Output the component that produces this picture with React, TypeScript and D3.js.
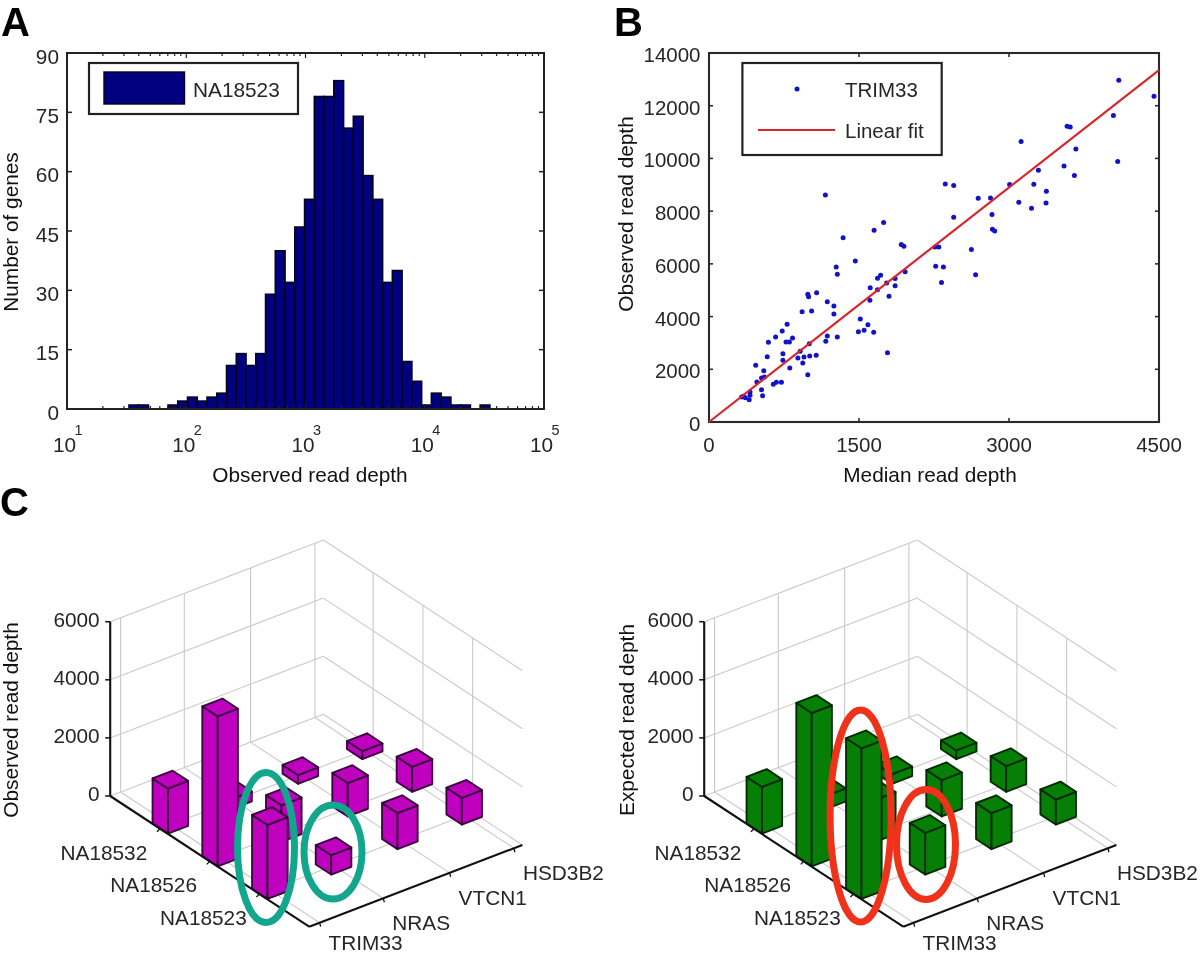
import React from "react";
import * as d3 from "d3";

const FONT = "'Liberation Sans', Arial, sans-serif";
const TEXT = "#262626";

// Panel A
const histLogStart = 1.029;
const histLogStep = 0.0818;
const histCounts = [0,0,0,0,0,0,1,1,0,0,1,2,3,2,3,4,11,14,11,14,29,40,32,46,53,79,79,83,71,74,59,53,32,35,12,7,1,4,3,1,1,0,1,0,0,0,0,0];
const histYTicks = [0,15,30,45,60,75,90];
const histDecades = [1,2,3,4,5];

// Panel B
const medianDepth = [4098,4450,4044,3581,3612,3121,3669,4087,3550,3294,3654,3248,3006,2363,2447,3374,2692,2815,3098,3370,3225,1164,2830,2447,1746,1651,2834,2857,1341,1923,1949,2260,2298,2624,1463,2267,2344,1272,1283,2666,1716,1685,1961,1861,2325,1777,1861,1612,1685,1076,988,996,1800,1609,1183,1249,931,1026,1249,1513,1589,781,732,1494,1551,1647,666,835,1183,1283,770,804,594,1168,1003,912,1785,739,582,1072,1007,950,889,739,938,467,808,548,988,555,525,479,724,674,643,525,536,410,410,326,364,402,345];
const observedDepth = [12966,12359,11625,11220,11195,10639,10360,9880,9715,9551,9348,9019,9007,9032,8969,8754,8488,8501,8336,8311,8109,8615,7868,7767,7565,7274,7312,7248,6995,6730,6667,6641,6641,6540,6110,5908,5882,5882,5604,5591,5566,5452,5705,5440,5288,5275,5174,5098,5022,4908,4845,4756,4769,4617,4567,4402,4187,4212,4099,3909,3694,3706,3453,3428,3479,3403,3226,3188,3264,3226,3036,3036,3023,3061,2973,2682,2631,2593,2479,2530,2505,2467,2429,2340,2239,2150,2049,1948,1796,1708,1670,1518,1505,1505,1429,1227,999,1139,1012,949,923,848,974];
const fitEnd = [4500, 13346];
const bXTicks = [0,1500,3000,4500];
const bYTicks = [0,2000,4000,6000,8000,10000,12000,14000];

// Panel C
const samples = ["NA18532","NA18526","NA18523"];
const genes = ["TRIM33","NRAS","VTCN1","HSD3B2"];
const sampleU = [1,2,3];
const geneV = [0.16,1.14,2.16,3.15];
const zTicks = [0,2000,4000,6000];
const observedBars = [
  [1550,344,300,275],
  [5160,1260,1150,860],
  [2547,665,1240,918],
];
const expectedBars = [
  [1606,450,330,300],
  [5277,1450,1250,883],
  [5186,1434,1240,860],
];

// layout
const A = {l:67,r:544,t:53,b:409};
const B = {l:709,r:1159,t:53,b:422};

function PanelA(){
  const x = d3.scaleLog().domain([10,100000]).range([A.l,A.r]);
  const y = d3.scaleLinear().domain([0,90]).range([A.b,A.t]);
  const minor: number[] = [];
  d3.range(1,5).forEach(d=>d3.range(1,10).forEach(m=>minor.push(m*Math.pow(10,d))));
  return <g>
    {histCounts.map((c,i)=>{
      const x0 = x(Math.pow(10,histLogStart+i*histLogStep));
      const x1 = x(Math.pow(10,histLogStart+(i+1)*histLogStep));
      return <rect key={i} x={x0} width={x1-x0} y={y(c)} height={y(0)-y(c)} fill="#000080" stroke="#05051e" strokeWidth={1.6}/>;
    })}
    {minor.map((m,i)=>{
      const len = (Math.log10(m)%1===0)?5:3;
      return <g key={i} stroke="#222" strokeWidth={1.2}>
        <line x1={x(m)} x2={x(m)} y1={A.b} y2={A.b-len}/>
        <line x1={x(m)} x2={x(m)} y1={A.t} y2={A.t+len}/>
      </g>;
    })}
    {histYTicks.map(t=><g key={t}>
      <line x1={A.l} x2={A.l+5} y1={y(t)} y2={y(t)} stroke="#222" strokeWidth={1.5}/>
      <line x1={A.r} x2={A.r-5} y1={y(t)} y2={y(t)} stroke="#222" strokeWidth={1.5}/>
      <text x={59} y={y(t)+10.5} textAnchor="end" fontSize={20.8} fill={TEXT}>{t}</text>
    </g>)}
    <rect x={A.l} y={A.t} width={A.r-A.l} height={A.b-A.t} fill="none" stroke="#222" strokeWidth={2}/>
    {histDecades.map(d=>{
      const px = x(Math.pow(10,d));
      return <g key={d} fill={TEXT}>
        <text x={px-2.5} y={452} textAnchor="middle" fontSize={20.8}>10</text>
        <text x={px+11.5} y={435} textAnchor="middle" fontSize={14.5}>{d}</text>
      </g>;
    })}
    <text x={310} y={482} textAnchor="middle" fontSize={20.8} fill="#111">Observed read depth</text>
    <text transform="translate(18,232) rotate(-90)" textAnchor="middle" fontSize={20.8} fill="#111">Number of genes</text>
    <rect x={89} y={63} width={209} height={51} fill="#fff" stroke="#222" strokeWidth={2.2}/>
    <rect x={104} y={72} width={80.5} height={32} fill="#000080" stroke="#05051e" strokeWidth={1.4}/>
    <text x={193} y={97} fontSize={20.8} fill={TEXT}>NA18523</text>
  </g>;
}

function PanelB(){
  const x = d3.scaleLinear().domain([0,4500]).range([B.l,B.r]);
  const y = d3.scaleLinear().domain([0,14000]).range([B.b,B.t]);
  const fit = d3.line()([[x(0),y(0)],[x(fitEnd[0]),y(fitEnd[1])]]) as string;
  return <g>
    {bXTicks.map(t=><g key={t}>
      <line x1={x(t)} x2={x(t)} y1={B.b} y2={B.b-4} stroke="#222" strokeWidth={1.5}/>
      <line x1={x(t)} x2={x(t)} y1={B.t} y2={B.t+4} stroke="#222" strokeWidth={1.5}/>
      <text x={x(t)} y={452} textAnchor="middle" fontSize={20.5} fill={TEXT}>{t}</text>
    </g>)}
    {bYTicks.map(t=><g key={t}>
      <line x1={B.l} x2={B.l+4} y1={y(t)} y2={y(t)} stroke="#222" strokeWidth={1.5}/>
      <line x1={B.r} x2={B.r-4} y1={y(t)} y2={y(t)} stroke="#222" strokeWidth={1.5}/>
      <text x={700.5} y={y(t)+9} textAnchor="end" fontSize={20.5} fill={TEXT}>{t}</text>
    </g>)}
    <rect x={B.l} y={B.t} width={B.r-B.l} height={B.b-B.t} fill="none" stroke="#2a2a2a" strokeWidth={2.1}/>
    {medianDepth.map((m,i)=><circle key={i} cx={x(m)} cy={y(observedDepth[i])} r={2.5} fill="#1212c8"/>)}
    <path d={fit} stroke="#d8262c" strokeWidth={2.2} fill="none"/>
    <text x={930} y={482} textAnchor="middle" fontSize={20.8} fill="#111">Median read depth</text>
    <text transform="translate(632.5,214) rotate(-90)" textAnchor="middle" fontSize={20.8} fill="#111">Observed read depth</text>
    <rect x={742.4} y={63} width={199.3} height={92} fill="#fff" stroke="#222" strokeWidth={2.2}/>
    <circle cx={797} cy={89} r={2.5} fill="#1212c8"/>
    <text x={845} y={97} fontSize={20.5} fill={TEXT}>TRIM33</text>
    <line x1={758} x2={835} y1={130} y2={130} stroke="#d8262c" strokeWidth={2.2}/>
    <text x={845} y={138} fontSize={20.5} fill={TEXT}>Linear fit</text>
  </g>;
}

function Panel3D({ox,bars,fill,edge,zLabel,zLabelX}:{ox:number,bars:number[][],fill:string,edge:string,zLabel:string,zLabelX:number}){
  const uMax = 4, vMax = 3.28, half = 0.155;
  const uX = d3.scaleLinear().domain([0,uMax]).range([0,199]);
  const uY = d3.scaleLinear().domain([0,uMax]).range([0,130.7]);
  const vX = d3.scaleLinear().domain([0,vMax]).range([0,213.2]);
  const vY = d3.scaleLinear().domain([0,vMax]).range([0,-81.7]);
  const zY = d3.scaleLinear().domain([0,6000]).range([0,-174.3]);
  const P = (u:number,v:number,z:number):[number,number]=>[ox+uX(u)+vX(v),796+uY(u)+vY(v)+zY(z)];
  const seg = d3.line();
  const poly = (pts:[number,number][])=>seg(pts)+"Z";
  const L = (a:[number,number],b:[number,number])=>seg([a,b]) as string;

  const grid: string[] = [];
  zTicks.forEach(z=>{
    grid.push(L(P(0,0,z),P(0,vMax,z)));
    grid.push(L(P(0,vMax,z),P(uMax,vMax,z)));
  });
  geneV.forEach(v=>{
    grid.push(L(P(0,v,0),P(0,v,6000)));
    grid.push(L(P(0,v,0),P(uMax,v,0)));
  });
  sampleU.forEach(u=>{
    grid.push(L(P(u,vMax,0),P(u,vMax,6000)));
    grid.push(L(P(u,0,0),P(u,vMax,0)));
  });

  const items: {u:number,v:number,z:number,key:string}[] = [];
  sampleU.forEach((u,i)=>geneV.forEach((v,j)=>items.push({u,v,z:bars[i][j],key:i+"-"+j})));
  items.sort((a,b)=>(a.u-a.v)-(b.u-b.v));

  return <g>
    {grid.map((d,i)=><path key={i} d={d} stroke="#c9c9c9" strokeWidth={1.1} fill="none"/>)}
    {items.map(b=>{
      const {u,v,z}=b;
      const lf:[number,number]=[u-half,v-half], fr:[number,number]=[u+half,v-half], rt:[number,number]=[u+half,v+half], bk:[number,number]=[u-half,v+half];
      return <g key={b.key} fill={fill} stroke={edge} strokeWidth={1.9} strokeLinejoin="round">
        <path d={poly([P(lf[0],lf[1],0),P(fr[0],fr[1],0),P(fr[0],fr[1],z),P(lf[0],lf[1],z)])}/>
        <path d={poly([P(fr[0],fr[1],0),P(rt[0],rt[1],0),P(rt[0],rt[1],z),P(fr[0],fr[1],z)])}/>
        <path d={poly([P(lf[0],lf[1],z),P(fr[0],fr[1],z),P(rt[0],rt[1],z),P(bk[0],bk[1],z)])}/>
      </g>;
    })}
    <g stroke="#111" strokeWidth={2.1} fill="none">
      <path d={L(P(0,0,6000),P(0,0,0))}/>
      <path d={L(P(0,0,0),P(uMax,0,0))}/>
      <path d={L(P(uMax,0,0),P(uMax,vMax,0))}/>
    </g>
    {zTicks.map(t=>{
      const [px,py]=P(0,0,t);
      return <g key={t}>
        <line x1={px-5} x2={px} y1={py} y2={py} stroke="#111" strokeWidth={1.5}/>
        <text x={px-10.5} y={py+5} textAnchor="end" fontSize={20.8} fill={TEXT}>{t}</text>
      </g>;
    })}
    {sampleU.map((u,i)=>{
      const [px,py]=P(u,0,0);
      return <g key={u}>
        <line x1={px} x2={px-3} y1={py} y2={py+3} stroke="#111" strokeWidth={1.3}/>
        <text x={px-12.7} y={py+31} textAnchor="end" fontSize={20.8} fill={TEXT}>{samples[i]}</text>
      </g>;
    })}
    {geneV.map((v,j)=>{
      const [px,py]=P(4,v,0);
      return <g key={v}>
        <line x1={px} x2={px+1} y1={py} y2={py+4} stroke="#111" strokeWidth={1.3}/>
        <text x={px+9} y={Math.min(py+32,950)} fontSize={20.8} fill={TEXT}>{genes[j]}</text>
      </g>;
    })}
    <text transform={`translate(${zLabelX},720) rotate(-90)`} textAnchor="middle" fontSize={20.8} fill="#111">{zLabel}</text>
  </g>;
}

export default function App(){
  return <svg width={1200} height={955} viewBox="0 0 1200 955" fontFamily={FONT} style={{position:"absolute",left:0,top:0,display:"block",background:"#fff",filter:"blur(0.45px)"}}>
    <PanelA/>
    <PanelB/>
    <Panel3D ox={110.2} bars={observedBars} fill="#bf00bf" edge="#38083c" zLabel="Observed read depth" zLabelX={18}/>
    <Panel3D ox={704.2} bars={expectedBars} fill="#057f05" edge="#032b03" zLabel="Expected read depth" zLabelX={633.7}/>
    <g fill="none" stroke="#12a68c" strokeWidth={7}>
      <ellipse cx={266} cy={847.5} rx={28.5} ry={75}/>
      <ellipse cx={333} cy={852} rx={29} ry={47}/>
    </g>
    <g fill="none" stroke="#f0321a" strokeWidth={7}>
      <ellipse cx={860.6} cy={816} rx={30.5} ry={106}/>
      <ellipse cx={926} cy={844.5} rx={29.5} ry={55}/>
    </g>
    <g fontSize={40} fontWeight="bold" fill="#000">
      <text x={1} y={36}>A</text>
      <text x={614} y={36}>B</text>
      <text x={0} y={516}>C</text>
    </g>
  </svg>;
}
